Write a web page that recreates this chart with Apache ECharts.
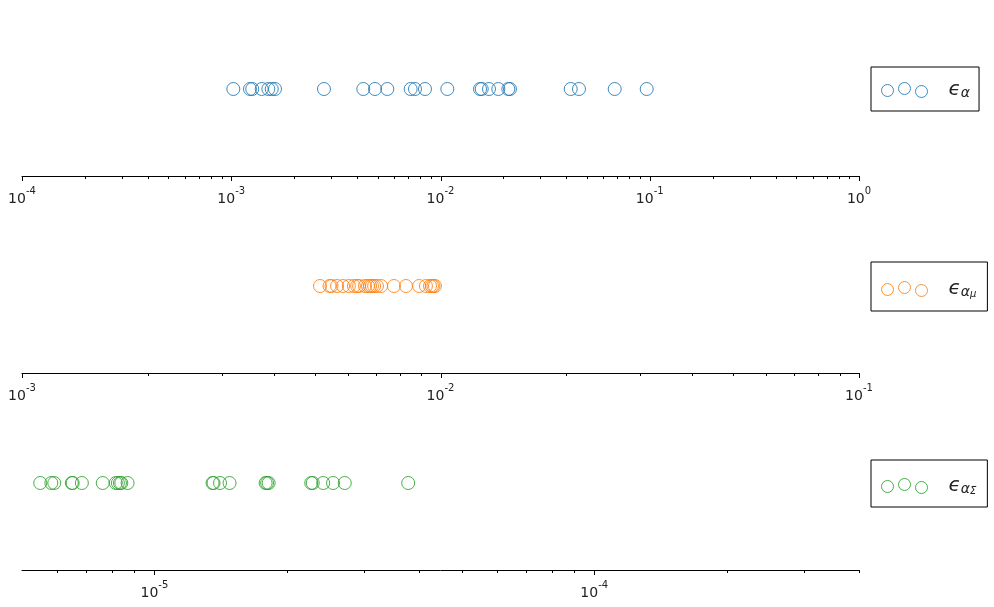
<!DOCTYPE html>
<html><head><meta charset="utf-8">
<script src="https://cdn.jsdelivr.net/npm/echarts@6/dist/echarts.min.js"></script>
<style>html,body{margin:0;padding:0;background:#fff}#c{width:994px;height:607px}</style>
</head><body><div id="c"></div>
<script>
// ---- data ----
const epsAlpha = [1.023e-3, 1.229e-3, 1.26e-3, 1.398e-3, 1.504e-3, 1.561e-3, 1.618e-3, 2.774e-3,
  4.276e-3, 4.864e-3, 5.57e-3, 7.2e-3, 7.55e-3, 8.43e-3, 1.078e-2, 1.545e-2, 1.574e-2, 1.705e-2,
  1.889e-2, 2.109e-2, 2.148e-2, 4.19e-2, 4.59e-2, 6.80e-2, 9.67e-2];
const epsAlphaMu = [5.153e-3, 5.43e-3, 5.49e-3, 5.66e-3, 5.85e-3, 6.04e-3, 6.21e-3, 6.32e-3, 6.39e-3,
  6.60e-3, 6.71e-3, 6.79e-3, 6.86e-3, 6.94e-3, 7.05e-3, 7.21e-3, 7.74e-3, 8.27e-3, 8.89e-3, 9.23e-3,
  9.44e-3, 9.54e-3, 9.62e-3, 9.70e-3];
const epsAlphaSigma = [5.50e-6, 5.83e-6, 5.92e-6, 6.49e-6, 6.52e-6, 6.84e-6, 7.63e-6, 8.17e-6, 8.26e-6,
  8.35e-6, 8.41e-6, 8.69e-6, 1.356e-5, 1.363e-5, 1.410e-5, 1.482e-5, 1.790e-5, 1.804e-5, 1.819e-5,
  2.273e-5, 2.291e-5, 2.420e-5, 2.548e-5, 2.709e-5, 3.776e-5];
const xRanges = [[1e-4, 1], [1e-3, 1e-1], [5e-6, 4e-4]];
const majorTicks = [[1e-4, 1e-3, 1e-2, 1e-1, 1], [1e-3, 1e-2, 1e-1], [1e-5, 1e-4]];
const minorTicks = [
  [2e-4,3e-4,4e-4,5e-4,6e-4,7e-4,8e-4,9e-4, 2e-3,3e-3,4e-3,5e-3,6e-3,7e-3,8e-3,9e-3,
   2e-2,3e-2,4e-2,5e-2,6e-2,7e-2,8e-2,9e-2, 2e-1,3e-1,4e-1,5e-1,6e-1,7e-1,8e-1,9e-1],
  [2e-3,3e-3,4e-3,5e-3,6e-3,7e-3,8e-3,9e-3, 2e-2,3e-2,4e-2,5e-2,6e-2,7e-2,8e-2,9e-2],
  [6e-6,7e-6,8e-6,9e-6, 2e-5,3e-5,4e-5,5e-5,6e-5,7e-5,8e-5,9e-5, 2e-4,3e-4,4e-4]
];
const seriesNames = ['eps_alpha', 'eps_alpha_mu', 'eps_alpha_sigma'];
const legendLabels = {
  eps_alpha: '{e|\u03f5}{s|α}',
  eps_alpha_mu: '{e|\u03f5}{s|α}{ss|μ}',
  eps_alpha_sigma: '{e|\u03f5}{s|α}{ss|Σ}'
};
const colors = ['#1f77b4', '#ff7f0e', '#2ca02c'];
const allData = [epsAlpha, epsAlphaMu, epsAlphaSigma];

// ---- layout ----
const gridTops = [2, 199, 396];
const gridH = 174;
const legendTops = [67, 262, 460];
const legendPads = [[9, 9, 11, 10], [10, 11, 12, 10], [9, 11, 11, 10]];
const threeCircles = 'path://M0,8a6,6 0 1,0 12,0a6,6 0 1,0 -12,0M17,6a6,6 0 1,0 12,0a6,6 0 1,0 -12,0M34,9a6,6 0 1,0 12,0a6,6 0 1,0 -12,0';

const grids = [], xAxes = [], yAxes = [], series = [], legends = [];
for (let i = 0; i < 3; i++) {
  grids.push({left: 22, width: 837, top: gridTops[i], height: gridH});
  xAxes.push({
    type: 'log', logBase: 10, gridIndex: i, min: xRanges[i][0], max: xRanges[i][1],
    axisLine: {show: true, onZero: false, lineStyle: {color: '#000', width: 1}},
    axisTick: {show: false}, splitLine: {show: false}, minorTick: {show: false},
    axisLabel: {
      margin: 10, showMinLabel: true, showMaxLabel: true,
      formatter: function (v) {
        const e = Math.log10(v);
        const r = Math.round(e);
        if (Math.abs(e - r) > 1e-6) return '';
        return '{b|10}{s|' + (r < 0 ? '-' + (-r) : r) + '}';
      },
      rich: {
        b: {fontFamily: 'DejaVu Sans', fontSize: 14, color: '#222', lineHeight: 20, verticalAlign: 'bottom'},
        s: {fontFamily: 'DejaVu Sans', fontSize: 10, color: '#222', lineHeight: 10, verticalAlign: 'top'}
      }
    }
  });
  yAxes.push({type: 'value', gridIndex: i, min: -1, max: 1, show: false});
  series.push({
    name: seriesNames[i], type: 'scatter', xAxisIndex: i, yAxisIndex: i,
    symbol: 'circle', symbolSize: 13,
    itemStyle: {color: 'rgba(0,0,0,0)', borderColor: colors[i], borderWidth: 1, opacity: 0.85},
    data: allData[i].map(v => [v, 0]),
    emphasis: {disabled: true}
  });
  const tickData = majorTicks[i].map(v => [v, -1, 5]).concat(minorTicks[i].map(v => [v, -1, 3]));
  series.push({
    type: 'custom', xAxisIndex: i, yAxisIndex: i, silent: true, clip: false,
    data: tickData,
    renderItem: function (params, api) {
      const p = api.coord([api.value(0), api.value(1)]);
      const x = Math.round(p[0]) + 0.5;
      return {type: 'line', shape: {x1: x, y1: p[1], x2: x, y2: p[1] + api.value(2)},
        style: {stroke: '#000', lineWidth: 1}};
    }
  });
  legends.push({
    data: [seriesNames[i]], left: 871, top: legendTops[i], orient: 'vertical',
    padding: legendPads[i], itemWidth: 46, itemHeight: 15, icon: threeCircles,
    borderColor: '#000', borderWidth: 1, borderRadius: 0, selectedMode: false,
    itemStyle: {color: 'rgba(0,0,0,0)', borderColor: colors[i], borderWidth: 1, opacity: 0.85},
    formatter: n => legendLabels[n],
    textStyle: {
      rich: {
        e: {fontFamily: 'DejaVu Sans', fontStyle: 'italic', fontSize: 20, color: '#222', lineHeight: 20, verticalAlign: 'top', padding: [0, 0, 0, 16]},
        s: {fontFamily: 'DejaVu Sans', fontStyle: 'italic', fontSize: 14, color: '#222', lineHeight: 14, verticalAlign: 'bottom', padding: [10, 0, 0, 0]},
        ss: {fontFamily: 'DejaVu Sans', fontStyle: 'italic', fontSize: 10, color: '#222', lineHeight: 10, verticalAlign: 'bottom', padding: [17, 0, 0, 0]}
      }
    }
  });
}

const chart = echarts.init(document.getElementById('c'), null, {renderer: 'canvas'});
chart.setOption({
  animation: false, backgroundColor: '#fff',
  grid: grids, xAxis: xAxes, yAxis: yAxes, series: series, legend: legends
});
</script></body></html>
